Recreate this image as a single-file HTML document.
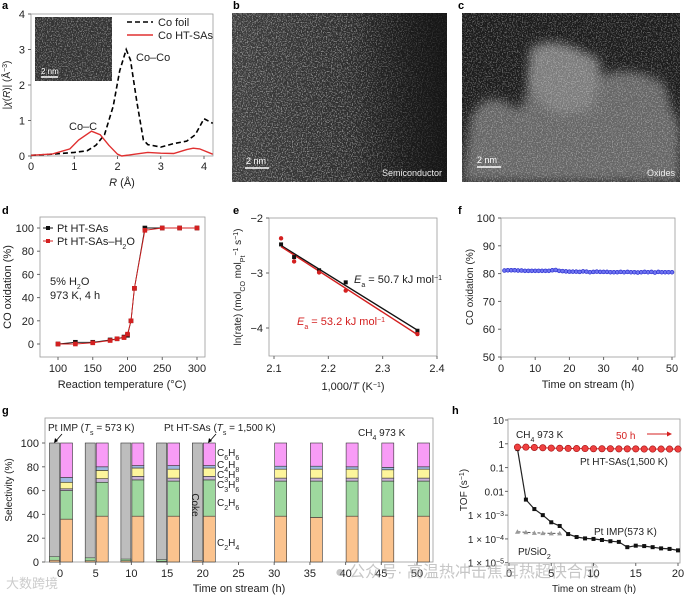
<!DOCTYPE html>
<html><head><meta charset="utf-8"><style>
html,body{margin:0;padding:0;background:#fff;}
svg{display:block;font-family:"Liberation Sans","Noto Sans CJK SC",sans-serif;}
</style></head><body>
<svg id="fig" width="685" height="595" viewBox="0 0 685 595">
<defs>
<filter id="noiseB" x="0" y="0" width="100%" height="100%"><feTurbulence type="fractalNoise" baseFrequency="0.8" numOctaves="2" seed="3"/><feColorMatrix type="matrix" values="0 0 0 0 1  0 0 0 0 1  0 0 0 0 1  7 0 0 0 -3.6"/></filter>
<filter id="blur4"><feGaussianBlur stdDeviation="5"/></filter>
<linearGradient id="gB" x1="0" x2="1"><stop offset="0" stop-color="#3e3e3e"/><stop offset="0.6" stop-color="#2c2c2c"/><stop offset="1" stop-color="#161616"/></linearGradient>
<linearGradient id="gBfade" x1="0" x2="1"><stop offset="0.55" stop-color="#161616" stop-opacity="0"/><stop offset="1" stop-color="#161616" stop-opacity="0.85"/></linearGradient>
</defs>
</svg>
<script>
// ---------- data ----------
const aFoilR=[0,0.5,1,1.3,1.5,1.7,1.9,2.05,2.2,2.3,2.45,2.6,2.7,3.0,3.3,3.6,3.8,4.0,4.2];
const aFoilV=[0.02,0.05,0.1,0.15,0.3,0.6,1.4,2.4,3.0,2.7,1.5,0.45,0.32,0.25,0.35,0.42,0.6,1.05,0.92];
const aSAR=[0,0.5,0.9,1.1,1.4,1.6,1.8,2.0,2.1,2.4,2.7,3.0,3.3,3.6,3.75,3.9,4.2];
const aSAV=[0.02,0.06,0.2,0.45,0.7,0.6,0.3,0.05,0.0,0.05,0.1,0.08,0.07,0.18,0.22,0.2,0.05];
const dTemp=[100,125,150,175,185,195,200,205,210,225,250,275,300];
const dBlack=[0,1.5,1.5,3.5,4.5,6,7.5,20,48,100,100,100,100];
const dRed=[0,0,1,3,4.5,5.5,8.5,20,48,98,100,100,100];
const eXb=[2.113,2.137,2.183,2.232,2.364];
const eYb=[-2.48,-2.71,-2.95,-3.17,-4.05];
const eXr=[2.113,2.137,2.183,2.232,2.364];
const eYr=[-2.37,-2.79,-2.99,-3.32,-4.11];
const eFitB=[-2.5,-4.04];
const eFitR=[-2.52,-4.12];
const fTime=[1,2,3,4,5,6,7,8,9,10,11,12,13,14,15,16,17,18,19,20,21,22,23,24,25,26,27,28,29,30,31,32,33,34,35,36,37,38,39,40,41,42,43,44,45,46,47,48,49,50];
const fVal=[81.1,81.2,81.2,81.2,81.1,81.1,81,81,81,81,81,81,81,81,81.2,81.3,81,80.9,80.8,80.7,80.7,80.7,80.6,80.8,80.7,80.5,80.6,80.7,80.6,80.6,80.6,80.5,80.5,80.5,80.6,80.5,80.6,80.5,80.5,80.4,80.5,80.6,80.5,80.6,80.4,80.6,80.5,80.5,80.5,80.5];
const gTimes=[0,5,10,15,20,30,35,40,45,50];
const gC2H4=[36,38.5,38.5,38.5,38.5,38.5,37.5,38.5,38.5,38.5];
const gC2H6=[24,28.5,30.5,29.5,30.5,29.5,30.5,29.5,29.5,29.5];
const gC3H6=[1.5,3,3,2.5,3,2.5,2.5,2.5,2.5,2.5];
const gC3H8=[5.5,7,7,7.5,7,7.5,7.5,7.5,7,7.5];
const gC4H8=[4,3,2,3,2,2.5,2.5,2,2,2];
const gC6H6=[29,20,19,19,19,19.5,19.5,20,20.5,20];
const gCokeTimes=[0,5,10,15,20];
const gCokeC2H4=[1.5,1,1,0.5,1];
const gCokeC2H6=[3,2.5,1.5,1.5,0];
const hTimeR=[1,2,3,4,5,6,7,8,9,10,11,12,13,14,15,16,17,18,19,20];
const hRed=[0.72,0.72,0.7,0.68,0.66,0.65,0.64,0.63,0.63,0.62,0.62,0.62,0.61,0.61,0.61,0.6,0.6,0.6,0.6,0.6];
const hTimeB=[1,2,3,4,5,6,7,8,9,10,11,12,13,14,15,16,17,18,19,20];
const hBlack=[0.6,4.5e-3,1.8e-3,1e-3,5e-4,3.5e-4,1.6e-4,1.2e-4,1.05e-4,1e-4,9e-5,8e-5,7.5e-5,4.5e-5,5.2e-5,5e-5,4.5e-5,4e-5,3.8e-5,3.3e-5];
const hTimeG=[1,2,3,4,5,6];
const hGray=[2e-4,1.9e-4,1.8e-4,1.75e-4,1.7e-4,1.7e-4];

const NS="http://www.w3.org/2000/svg";
const svg=document.getElementById('fig');
function mk(tag,attrs,parent){const e=document.createElementNS(NS,tag);for(const k in attrs)e.setAttribute(k,attrs[k]);(parent||svg).appendChild(e);return e;}
function txt(x,y,s,size,parent,anchor,extra){const t=mk('text',Object.assign({x:x,y:y,'font-size':size||11,'text-anchor':anchor||'start',fill:'#222'},extra||{}),parent);t.innerHTML=s;return t;}
function lin(d0,d1,p0,p1){return v=>p0+(v-d0)*(p1-p0)/(d1-d0);}
function path(pts){return pts.map((p,i)=>(i?'L':'M')+p[0].toFixed(1)+' '+p[1].toFixed(1)).join(' ');}

// panel letters
[['a',2,9],['b',233,9],['c',458,9],['d',2,214],['e',233,214],['f',458,214],['g',2,414],['h',452,414]].forEach(l=>{
 const t=txt(l[1],l[2],l[0],11,svg,'start',{'font-weight':'bold',fill:'#000'});
 
 
});

function frame(g,x0,y0,x1,y1){const r=mk('rect',{x:x0,y:y0,width:x1-x0,height:y1-y0,fill:'none',stroke:'#999','stroke-width':0.8},g);}

// ---------- panel a ----------
(function(){
 const g=mk('g',{});
 const X=lin(0,4,31,204),Y=lin(0,4,156,14);
 frame(g,31,14,213,156);
 for(let v=0;v<=4;v++){mk('line',{x1:X(v),x2:X(v),y1:156,y2:159,stroke:'#666'},g);const t=txt(X(v),170,v,11,g,'middle');
  mk('line',{x1:28,x2:31,y1:Y(v),y2:Y(v),stroke:'#666'},g);const u=txt(25,Y(v)+4,v,11,g,'end');}
 const xl=txt(122,186,'<tspan font-style="italic">R</tspan> (Å)',11,g,'middle');
 const yl=txt(0,0,'|<tspan font-style="italic">χ</tspan>(<tspan font-style="italic">R</tspan>)| (Å<tspan baseline-shift="super" font-size="7">−3</tspan>)',10,g,'middle',{transform:'translate(10,85) rotate(-90)'});
 const foil=mk('path',{d:path(aFoilR.map((r,i)=>[X(r),Y(aFoilV[i])])),fill:'none',stroke:'#000','stroke-width':1.6,'stroke-dasharray':'5,3'},g);
 const sa=mk('path',{d:path(aSAR.map((r,i)=>[X(r),Y(aSAV[i])])),fill:'none',stroke:'#e03030','stroke-width':1.4},g);
 const inset=mk('rect',{x:35,y:17,width:77,height:64,fill:'#333'},g);
 mk('rect',{x:35,y:17,width:77,height:64,filter:'url(#noiseB)',opacity:0.35},g);
 mk('line',{x1:41,x2:58,y1:77,y2:77,stroke:'#fff','stroke-width':1.5},g);
 txt(41,74,'2 nm',8,g,'start',{fill:'#fff'});
 mk('line',{x1:127,x2:153,y1:22,y2:22,stroke:'#000','stroke-width':1.5,'stroke-dasharray':'5,3'},g);
 const l1=txt(158,26,'Co foil',11,g);
 mk('line',{x1:127,x2:153,y1:35,y2:35,stroke:'#e03030','stroke-width':1.5},g);
 const l2=txt(158,39,'Co HT-SAs',11,g);
 txt(136,61,'Co–Co',11,g);txt(69,130,'Co–C',11,g);
})();

// ---------- panels b, c (micrographs) ----------
(function(){
 const gb=mk('g',{});
 mk('rect',{x:232,y:13,width:215,height:169,fill:'url(#gB)'},gb);
 mk('rect',{x:232,y:13,width:215,height:169,filter:'url(#noiseB)',opacity:0.4},gb);
 mk('rect',{x:232,y:13,width:215,height:169,fill:'url(#gBfade)'},gb);
 mk('line',{x1:245,x2:269,y1:168,y2:168,stroke:'#fff','stroke-width':1.5},gb);
 txt(246,164,'2 nm',9,gb,'start',{fill:'#fff'});
 const sb=txt(442,176,'Semiconductor',9,gb,'end',{fill:'#eee'});
 const gc=mk('g',{});
 const cp=mk('clipPath',{id:'clipC'},svg);mk('rect',{x:462,y:13,width:218,height:169},cp);
 const gi=mk('g',{'clip-path':'url(#clipC)'},gc);
 mk('rect',{x:462,y:13,width:218,height:169,fill:'#1c1c1c'},gi);
 mk('path',{d:'M470 120 Q480 95 500 100 L520 110 L530 85 Q540 55 570 70 L600 75 Q640 65 665 85 L672 110 L680 125 L680 182 L462 182 Z',fill:'#666',filter:'url(#blur4)'},gi);
 mk('path',{d:'M530 50 Q545 35 580 50 L600 60 Q600 95 590 110 L560 115 Q535 105 528 80 Z',fill:'#7c7c7c',filter:'url(#blur4)'},gi);
 mk('rect',{x:462,y:13,width:218,height:169,filter:'url(#noiseB)',opacity:0.3},gi);
 mk('line',{x1:477,x2:501,y1:167,y2:167,stroke:'#fff','stroke-width':1.5},gc);
 txt(477,163,'2 nm',9,gc,'start',{fill:'#fff'});
 const sc=txt(675,176,'Oxides',9,gc,'end',{fill:'#eee'});
})();

// ---------- panel d ----------
(function(){
 const g=mk('g',{});
 const X=lin(100,300,58,197),Y=lin(0,100,344,228);
 frame(g,40,217,205,357);
 [100,150,200,250,300].forEach(v=>{mk('line',{x1:X(v),x2:X(v),y1:357,y2:360,stroke:'#666'},g);const t=txt(X(v),372,v,11,g,'middle');});
 [0,20,40,60,80,100].forEach(v=>{mk('line',{x1:37,x2:40,y1:Y(v),y2:Y(v),stroke:'#666'},g);const t=txt(34,Y(v)+4,v,11,g,'end');});
 const xl=txt(122,388,'Reaction temperature (°C)',11,g,'middle');
 const yl=txt(0,0,'CO oxidation (%)',11,g,'middle',{transform:'translate(11,287) rotate(-90)'});
 [[dBlack,'#111','pt-ht-sas'],[dRed,'#d42020','pt-ht-sas-h2o']].forEach(s=>{
  const p=mk('path',{d:path(dTemp.map((t,i)=>[X(t),Y(s[0][i])])),fill:'none',stroke:s[1],'stroke-width':0.9},g);
  dTemp.forEach((t,i)=>{const r=mk('rect',{x:X(t)-2.3,y:Y(s[0][i])-2.3,width:4.6,height:4.6,fill:s[1]},g);});
 });
 mk('rect',{x:46,y:226,width:4,height:4,fill:'#111'},g);mk('line',{x1:43,x2:53,y1:228,y2:228,stroke:'#111'},g);
 const l1=txt(57,232,'Pt HT-SAs',11,g);
 mk('rect',{x:46,y:239,width:4,height:4,fill:'#d42020'},g);mk('line',{x1:43,x2:53,y1:241,y2:241,stroke:'#d42020'},g);
 const l2=txt(57,245,'Pt HT-SAs–H<tspan baseline-shift="sub" font-size="7">2</tspan>O',11,g);
 txt(50,285,'5%  H<tspan baseline-shift="sub" font-size="7">2</tspan>O',11,g);txt(50,299,'973 K, 4 h',11,g);
})();

// ---------- panel e ----------
(function(){
 const g=mk('g',{});
 const X=lin(2.1,2.4,274,437),Y=lin(-2,-4,218,328);
 frame(g,269,218,437,356);
 [2.1,2.2,2.3,2.4].forEach(v=>{mk('line',{x1:X(v),x2:X(v),y1:356,y2:359,stroke:'#666'},g);const t=txt(X(v),372,v.toFixed(1),11,g,'middle');});
 [-2,-3,-4].forEach(v=>{mk('line',{x1:266,x2:269,y1:Y(v),y2:Y(v),stroke:'#666'},g);const t=txt(263,Y(v)+4,'−'+Math.abs(v),11,g,'end');});
 const xl=txt(353,390,'1,000/<tspan font-style="italic">T</tspan> (K<tspan baseline-shift="super" font-size="7">−1</tspan>)',11,g,'middle');
 const yl=txt(0,0,'ln(rate) (mol<tspan baseline-shift="sub" font-size="7">CO</tspan> mol<tspan baseline-shift="sub" font-size="7">Pt</tspan><tspan baseline-shift="super" font-size="7">−1</tspan> s<tspan baseline-shift="super" font-size="7">−1</tspan>)',10,g,'middle',{transform:'translate(241,287) rotate(-90)'});
 const fb=mk('line',{x1:X(eXb[0]),y1:Y(eFitB[0]),x2:X(eXb[4]),y2:Y(eFitB[1]),stroke:'#111','stroke-width':1.4},g);
 const fr=mk('line',{x1:X(eXr[0]),y1:Y(eFitR[0]),x2:X(eXr[4]),y2:Y(eFitR[1]),stroke:'#d42020','stroke-width':1.4},g);
 eXb.forEach((x,i)=>{const r=mk('rect',{x:X(x)-2,y:Y(eYb[i])-2,width:4,height:4,fill:'#111'},g);});
 eXr.forEach((x,i)=>{const r=mk('circle',{cx:X(x),cy:Y(eYr[i]),r:2.2,fill:'#d42020'},g);});
 txt(354,283,'<tspan font-style="italic">E</tspan><tspan baseline-shift="sub" font-size="7">a</tspan> = 50.7 kJ mol<tspan baseline-shift="super" font-size="7">−1</tspan>',11,g);
 txt(297,325,'<tspan font-style="italic">E</tspan><tspan baseline-shift="sub" font-size="7">a</tspan> = 53.2 kJ mol<tspan baseline-shift="super" font-size="7">−1</tspan>',11,g,'start',{fill:'#d42020'});
})();

// ---------- panel f ----------
(function(){
 const g=mk('g',{});
 const X=lin(0,50,501,672),Y=lin(50,100,357,218);
 frame(g,501,218,675,357);
 [0,10,20,30,40,50].forEach(v=>{mk('line',{x1:X(v),x2:X(v),y1:357,y2:360,stroke:'#666'},g);const t=txt(X(v),372,v,11,g,'middle');});
 [50,60,70,80,90,100].forEach(v=>{mk('line',{x1:498,x2:501,y1:Y(v),y2:Y(v),stroke:'#666'},g);const t=txt(495,Y(v)+4,v,11,g,'end');});
 const xl=txt(588,388,'Time on stream (h)',11,g,'middle');
 const yl=txt(0,0,'CO oxidation (%)',10,g,'middle',{transform:'translate(473,287) rotate(-90)'});
 fTime.forEach((t,i)=>{const c=mk('circle',{cx:X(t),cy:Y(fVal[i]),r:1.9,fill:'#6f74f0',stroke:'#2b2fd0','stroke-width':0.7},g);});
})();

// ---------- panel g ----------
(function(){
 const g=mk('g',{});
 const X=lin(0,50,60,417),Y=lin(0,100,562,443);
 frame(g,45,418,433,562);
 [0,5,10,15,20,25,30,35,40,45,50].forEach(v=>{mk('line',{x1:X(v),x2:X(v),y1:562,y2:565,stroke:'#666'},g);const t=txt(X(v),577,v,11,g,'middle');});
 [0,20,40,60,80,100].forEach(v=>{mk('line',{x1:42,x2:45,y1:Y(v),y2:Y(v),stroke:'#666'},g);const t=txt(39,Y(v)+4,v,11,g,'end');});
 const xl=txt(239,592,'Time on stream (h)',11,g,'middle');
 const yl=txt(0,0,'Selectivity (%)',10,g,'middle',{transform:'translate(12,490) rotate(-90)'});
 const series=[[gC2H4,'#fbc38e','c2h4'],[gC2H6,'#9ed89e','c2h6'],[gC3H6,'#c9b2d6','c3h6'],[gC3H8,'#fdf59c','c3h8'],[gC4H8,'#9db8e0','c4h8'],[gC6H6,'#f89cf6','c6h6']];
 gTimes.forEach((t,i)=>{
  let base=0;const x=X(t)+0.5;
  series.forEach(s=>{const v=s[0][i];const r=mk('rect',{x:x,y:Y(base+v),width:12,height:Y(base)-Y(base+v),fill:s[1],stroke:'#333','stroke-width':0.6},g);base+=v;});
 });
 gCokeTimes.forEach((t,i)=>{
  const x=X(t)-10.5;
  const gr=mk('rect',{x:x,y:Y(100),width:10,height:Y(0)-Y(100),fill:'#bdbdbd',stroke:'#333','stroke-width':0.6},g);
  const a=gCokeC2H4[i],b=gCokeC2H6[i];
  const r1=mk('rect',{x:x,y:Y(a),width:10,height:Y(0)-Y(a),fill:'#fbc38e',stroke:'#333','stroke-width':0.5},g);
  const r2=mk('rect',{x:x,y:Y(a+b),width:10,height:Y(a)-Y(a+b),fill:'#9ed89e',stroke:'#333','stroke-width':0.5},g);
 });
 txt(48,431,'Pt IMP (<tspan font-style="italic">T</tspan><tspan baseline-shift="sub" font-size="7">s</tspan> = 573 K)',10,g);
 txt(164,431,'Pt HT-SAs (<tspan font-style="italic">T</tspan><tspan baseline-shift="sub" font-size="7">s</tspan> = 1,500 K)',10,g);
 txt(358,436,'CH<tspan baseline-shift="sub" font-size="7">4</tspan> 973 K',10,g);
 mk('line',{x1:62,y1:434,x2:55,y2:442,stroke:'#000','stroke-width':0.8},g);mk('path',{d:'M54 443 L55 438 L58 441 Z',fill:'#000'},g);
 mk('line',{x1:216,y1:434,x2:209,y2:442,stroke:'#000','stroke-width':0.8},g);mk('path',{d:'M208 443 L209 438 L212 441 Z',fill:'#000'},g);
 [['C<tspan baseline-shift="sub" font-size="7">6</tspan>H<tspan baseline-shift="sub" font-size="7">6</tspan>',456],['C<tspan baseline-shift="sub" font-size="7">4</tspan>H<tspan baseline-shift="sub" font-size="7">8</tspan>',468],['C<tspan baseline-shift="sub" font-size="7">3</tspan>H<tspan baseline-shift="sub" font-size="7">8</tspan>',478],['C<tspan baseline-shift="sub" font-size="7">3</tspan>H<tspan baseline-shift="sub" font-size="7">6</tspan>',488],['C<tspan baseline-shift="sub" font-size="7">2</tspan>H<tspan baseline-shift="sub" font-size="7">6</tspan>',506],['C<tspan baseline-shift="sub" font-size="7">2</tspan>H<tspan baseline-shift="sub" font-size="7">4</tspan>',546]].forEach(l=>txt(217,l[1],l[0],10,g));
 txt(0,0,'Coke',10,g,'middle',{transform:'translate(192,505) rotate(90)'});
})();

// ---------- panel h ----------
(function(){
 const g=mk('g',{});
 const X=lin(0,20,509,678);const Y=v=>lin(1,-5,420,562.7)(Math.log10(v));
 frame(g,508,419,680,563);
 [0,5,10,15,20].forEach(v=>{mk('line',{x1:X(v),x2:X(v),y1:563,y2:566,stroke:'#666'},g);const t=txt(X(v),577,v,11,g,'middle');});
 const yt=[[10,'10'],[1,'1'],[0.1,'0.1'],[0.01,'0.01'],[1e-3,'1 × 10<tspan baseline-shift="super" font-size="7">−3</tspan>'],[1e-4,'1 × 10<tspan baseline-shift="super" font-size="7">−4</tspan>'],[1e-5,'1 × 10<tspan baseline-shift="super" font-size="7">−5</tspan>']];
 yt.forEach(v=>{mk('line',{x1:505,x2:508,y1:Y(v[0]),y2:Y(v[0]),stroke:'#666'},g);const t=txt(504,Y(v[0])+4,v[1],10,g,'end');});
 const xl=txt(594,592,'Time on stream (h)',10,g,'middle');
 const yl=txt(0,0,'TOF (s<tspan baseline-shift="super" font-size="7">−1</tspan>)',10,g,'middle',{transform:'translate(467,490) rotate(-90)'});
 const gl=mk('path',{d:path(hTimeG.map((t,i)=>[X(t),Y(hGray[i])])),fill:'none',stroke:'#555','stroke-dasharray':'3,2'},g);
 hTimeG.forEach((t,i)=>{const p=mk('path',{d:`M${X(t)} ${Y(hGray[i])-2.5} l2.5 4.5 h-5 Z`,fill:'#999'},g);});
 const bl=mk('path',{d:path(hTimeB.map((t,i)=>[X(t),Y(hBlack[i])])),fill:'none',stroke:'#222','stroke-width':1.2},g);
 hTimeB.forEach((t,i)=>{const r=mk('rect',{x:X(t)-2,y:Y(hBlack[i])-2,width:4,height:4,fill:'#111'},g);});
 const rl=mk('path',{d:path(hTimeR.map((t,i)=>[X(t),Y(hRed[i])])),fill:'none',stroke:'#d42020','stroke-width':1},g);
 hTimeR.forEach((t,i)=>{const c=mk('circle',{cx:X(t),cy:Y(hRed[i]),r:3.2,fill:'#f04040',stroke:'#a01010','stroke-width':0.6},g);});
 txt(516,438,'CH<tspan baseline-shift="sub" font-size="7">4</tspan> 973 K',10,g);
 txt(616,439,'50 h',10,g,'start',{fill:'#d42020'});
 mk('line',{x1:647,x2:669,y1:434,y2:434,stroke:'#d42020'},g);mk('path',{d:'M672 434 l-5 -2.5 v5 Z',fill:'#d42020'},g);
 txt(580,465,'Pt HT-SAs(1,500 K)',10,g);
 txt(594,535,'Pt IMP(573 K)',10,g);
 txt(518,555,'Pt/SiO<tspan baseline-shift="sub" font-size="7">2</tspan>',10,g);
})();

// watermarks
const w1=txt(335,577,'● 公众号· 高温热冲击焦耳热超快合成',16,svg,'start',{fill:'#999',opacity:0.55});


const w2=txt(6,588,'大数跨境',13,svg,'start',{fill:'#aaa',opacity:0.6});


</script>
</body></html>
